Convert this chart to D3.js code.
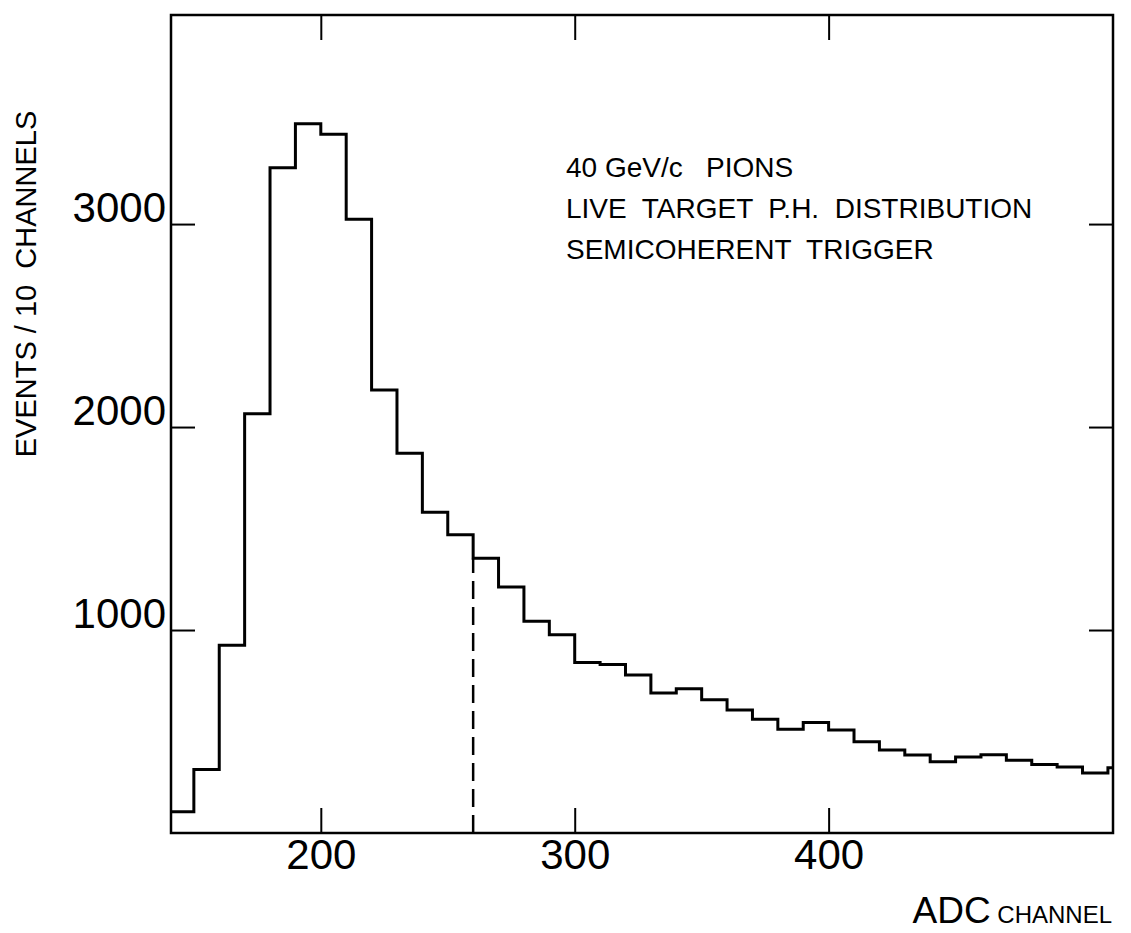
<!DOCTYPE html>
<html>
<head>
<meta charset="utf-8">
<script src="https://cdn.jsdelivr.net/npm/d3@7"></script>
<style>
  body { margin: 0; background: #fff; }
  svg { display: block; font-family: "Liberation Sans", Arial, Helvetica, sans-serif; }
  text { white-space: pre; fill: #000; }
</style>
</head>
<body>
<svg id="display" width="1131" height="933"></svg>
<script>
'use strict';

// lower edge of each 10-channel bin
var channels = [140, 150, 160, 170, 180, 190, 200, 210, 220, 230,
                240, 250, 260, 270, 280, 290, 300, 310, 320, 330,
                340, 350, 360, 370, 380, 390, 400, 410, 420, 430,
                440, 450, 460, 470, 480, 490, 500, 510];
var counts = [105, 313, 925, 2066, 3278, 3494, 3442, 3024, 2182, 1871,
              1580, 1469, 1354, 1212, 1043, 977, 840, 830, 779, 690,
              711, 657, 606, 561, 511, 545, 507, 449, 409, 384,
              351, 374, 386, 358, 338, 325, 296, 321];
var xTicks = [200, 300, 400];
var yTicks = [1000, 2000, 3000];
var cutChannel = 260;
var notes = ['40 GeV/c   PIONS', 'LIVE  TARGET  P.H.  DISTRIBUTION', 'SEMICOHERENT  TRIGGER'];

var LEFT = 171, RIGHT = 1113, TOP = 15, BOTTOM = 833;
var X_MIN = 141, X_MAX = 512, Y_MAX = 4030;

var svg = d3.select('#display');

var x = d3.scaleLinear().domain([X_MIN, X_MAX]).range([LEFT, RIGHT]);
var y = d3.scaleLinear().domain([0, Y_MAX]).range([BOTTOM, TOP]);

// step outline points, last bin runs into the right frame
var pts = channels.map(function(c, i) {
  return { x: Math.max(c, X_MIN), y: counts[i] };
});
pts.push({ x: X_MAX, y: counts[counts.length - 1] });

var stepLine = d3.line()
  .x(function(d) { return x(d.x); })
  .y(function(d) { return y(d.y); })
  .curve(d3.curveStepAfter);

svg.append('path')
  .attr('d', stepLine(pts))
  .attr('fill', 'none')
  .attr('stroke', '#000')
  .attr('stroke-width', 3);

// dashed cut line
var cutIdx = channels.indexOf(cutChannel);
svg.append('line')
  .attr('x1', x(cutChannel)).attr('x2', x(cutChannel))
  .attr('y1', y(0)).attr('y2', y(counts[cutIdx]))
  .attr('stroke', '#000')
  .attr('stroke-width', 2.5)
  .attr('stroke-dasharray', '18,8');

// axes (ticks point inwards)
function styleAxis(g) {
  g.select('.domain').remove();
  g.selectAll('.tick line').attr('stroke', '#000').attr('stroke-width', 2);
  g.selectAll('.tick text').attr('fill', '#000').attr('font-size', 42)
    .attr('font-family', '"Liberation Sans", Arial, sans-serif');
}

svg.append('g')
  .attr('transform', 'translate(0,' + BOTTOM + ')')
  .call(d3.axisBottom(x).tickValues(xTicks).tickSize(-25).tickPadding(6)
    .tickFormat(d3.format('d')))
  .call(styleAxis);

svg.append('g')
  .attr('transform', 'translate(0,' + TOP + ')')
  .call(d3.axisTop(x).tickValues(xTicks).tickSize(-25).tickFormat(''))
  .call(styleAxis);

svg.append('g')
  .attr('transform', 'translate(' + LEFT + ',0)')
  .call(d3.axisLeft(y).tickValues(yTicks).tickSize(-24).tickPadding(5)
    .tickFormat(d3.format('d')))
  .call(styleAxis)
  .selectAll('.tick text').attr('dy', '-0.05em');

svg.append('g')
  .attr('transform', 'translate(' + RIGHT + ',0)')
  .call(d3.axisRight(y).tickValues(yTicks).tickSize(-24).tickFormat(''))
  .call(styleAxis);

// frame
svg.append('rect')
  .attr('x', LEFT).attr('y', TOP)
  .attr('width', RIGHT - LEFT).attr('height', BOTTOM - TOP)
  .attr('fill', 'none')
  .attr('stroke', '#000')
  .attr('stroke-width', 2.5);

// annotation
svg.append('g')
  .selectAll('text')
  .data(notes)
  .enter()
  .append('text')
  .attr('x', 566)
  .attr('y', function(d, i) { return 177 + i * 41; })
  .attr('font-size', 28)
  .text(function(d) { return d; });

// axis titles
svg.append('text')
  .attr('transform', 'translate(26,284) rotate(-90)')
  .attr('text-anchor', 'middle')
  .attr('dominant-baseline', 'central')
  .attr('font-size', 29)
  .text('EVENTS / 10  CHANNELS');

var xTitle = svg.append('text')
  .attr('x', 1112)
  .attr('y', 923)
  .attr('text-anchor', 'end');
xTitle.append('tspan').attr('font-size', 37).text('ADC');
xTitle.append('tspan').attr('font-size', 24).text(' CHANNEL');
</script>
</body>
</html>
